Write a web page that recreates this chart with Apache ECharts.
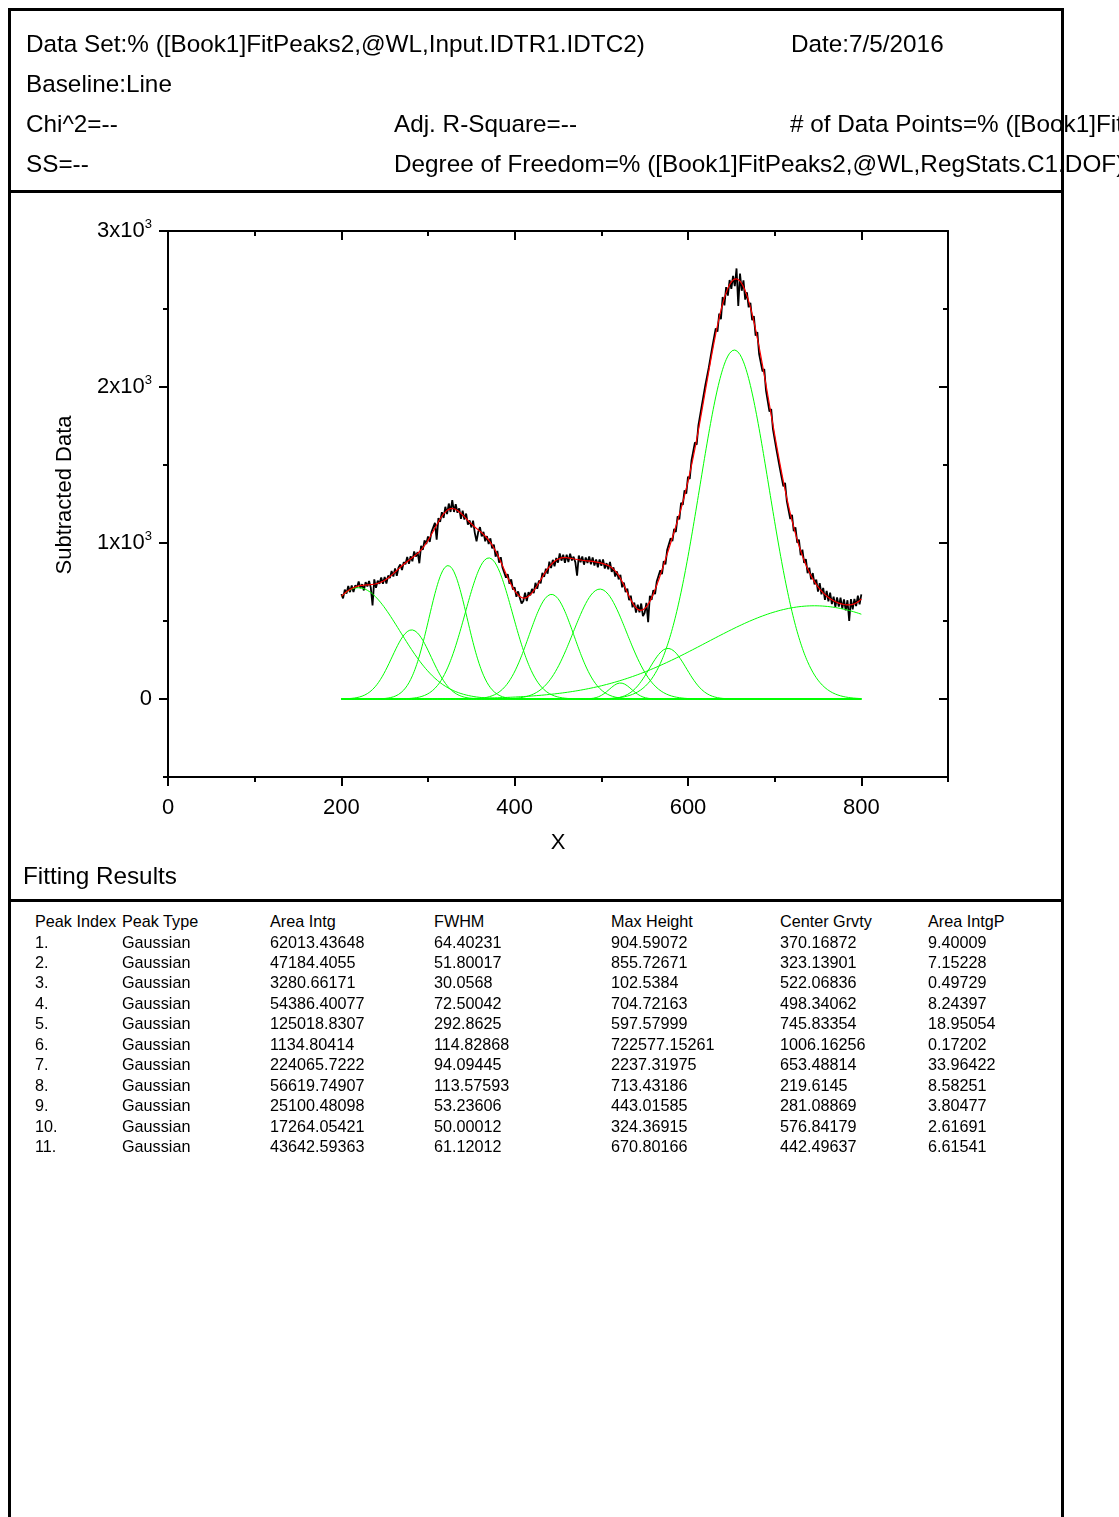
<!DOCTYPE html>
<html>
<head>
<meta charset="utf-8">
<title>Fit Peaks Report</title>
<script src="https://cdn.jsdelivr.net/npm/echarts@6/dist/echarts.min.js"></script>
<style>
  html, body { margin: 0; padding: 0; overflow: hidden; background: #fff; width: 1119px; height: 1517px; }
  body { position: relative; font-family: "Liberation Sans", Arial, Helvetica, sans-serif; color: #000; }
  .t { position: absolute; white-space: nowrap; line-height: 1; }
  .hd { font-size: 24.3px; }
  .tb { font-size: 16.2px; }
  #frame { position: absolute; left: 8px; top: 8px; width: 1056px; height: 1600px; border: 3px solid #000; box-sizing: border-box; }
  .rule { position: absolute; left: 8px; width: 1056px; height: 3px; background: #000; }
  #chart { position: absolute; left: 0; top: 0; width: 1119px; height: 895px; }
</style>
</head>
<body>
<div id="frame"></div>
<div class="rule" style="top:190px"></div>
<div class="rule" style="top:899px"></div>
<div id="chart"></div>
<div id="text"></div>
<script>
// ---- report header ----
const headerLines = [
  { x: 26,  y: 44,  text: "Data Set:% ([Book1]FitPeaks2,@WL,Input.IDTR1.IDTC2)" },
  { x: 791, y: 44,  text: "Date:7/5/2016" },
  { x: 26,  y: 84,  text: "Baseline:Line" },
  { x: 26,  y: 124, text: "Chi^2=--" },
  { x: 394, y: 124, text: "Adj. R-Square=--" },
  { x: 790, y: 124, text: "# of Data Points=% ([Book1]FitPeaks2,@WL,RegStats.C1.N)" },
  { x: 26,  y: 164, text: "SS=--" },
  { x: 394, y: 164, text: "Degree of Freedom=% ([Book1]FitPeaks2,@WL,RegStats.C1.DOF)" }
];

// ---- fitting results table ----
const tableColumns = ["Peak Index", "Peak Type", "Area Intg", "FWHM", "Max Height", "Center Grvty", "Area IntgP"];
const peakIndex   = ["1.", "2.", "3.", "4.", "5.", "6.", "7.", "8.", "9.", "10.", "11."];
const peakType    = ["Gaussian", "Gaussian", "Gaussian", "Gaussian", "Gaussian", "Gaussian", "Gaussian", "Gaussian", "Gaussian", "Gaussian", "Gaussian"];
const areaIntg    = [62013.43648, 47184.4055, 3280.66171, 54386.40077, 125018.8307, 1134.80414, 224065.7222, 56619.74907, 25100.48098, 17264.05421, 43642.59363];
const fwhm        = [64.40231, 51.80017, 30.0568, 72.50042, 292.8625, 114.82868, 94.09445, 113.57593, 53.23606, 50.00012, 61.12012];
const maxHeight   = [904.59072, 855.72671, 102.5384, 704.72163, 597.57999, 722577.15261, 2237.31975, 713.43186, 443.01585, 324.36915, 670.80166];
const centerGrvty = [370.16872, 323.13901, 522.06836, 498.34062, 745.83354, 1006.16256, 653.48814, 219.6145, 281.08869, 576.84179, 442.49637];
const areaIntgP   = [9.40009, 7.15228, 0.49729, 8.24397, 18.95054, 0.17202, 33.96422, 8.58251, 3.80477, 2.61691, 6.61541];

// peak 6 is centred far beyond the data range; only the cumulative fit carries its tail
const peaksWithoutCurve = [6];

// ---- axis ticks ----
const xMajorTicks = [0, 200, 400, 600, 800];
const yMajorTicks = [0, 1000, 2000, 3000];

// ---- baseline-subtracted data, x = 200 .. 800 in steps of 2 ----
const dataStartX = 200;
const dataStepX = 2;
const subtractedData = [
  672, 645, 701, 676, 725,   685, 727, 685, 728, 715,
  753, 711, 736, 696, 749,   722, 757, 713, 600, 767,
  713, 759, 739, 779, 739,   782, 740, 791, 775, 821,
  785, 837, 790, 843, 862,   827, 877, 864, 911, 867,
  915, 883, 946, 913, 941,   870, 981, 956, 1016, 994,
  1042, 1007, 1070, 1058, 1130,   1022, 1159, 1136, 1197, 1161,
  1232, 1185, 1253, 1199, 1275,   1199, 1249, 1194, 1222, 1155,
  1207, 1150, 1189, 1118, 1145,   1100, 1143, 1065, 1010, 1072,
  1102, 1042, 1071, 1011, 1044,   994, 1030, 966, 989, 912,
  949, 874, 909, 841, 848,   778, 800, 739, 767, 702,
  716, 655, 690, 648, 612,   628, 682, 628, 684, 665,
  706, 679, 745, 707, 759,   742, 808, 783, 835, 804,
  880, 840, 892, 851, 904,   874, 933, 887, 925, 873,
  925, 878, 932, 888, 912,   877, 790, 920, 876, 914,
  861, 907, 872, 914, 864,   908, 856, 895, 845, 895,
  854, 895, 836, 871, 832,   879, 815, 844, 785, 818,
  767, 796, 716, 746, 686,   707, 634, 662, 588, 618,
  554, 605, 556, 612, 532,   552, 616, 492, 662, 635,
  698, 673, 755, 748, 825,   801, 884, 863, 957, 950,
  1030, 1012, 1090, 1071, 1171,   1152, 1258, 1245, 1337, 1317,
  1425, 1411, 1527, 1529, 1645,   1630, 1754, 1747, 1884, 1890,
  2012, 2005, 2125, 2115, 2255,   2248, 2376, 2355, 2470, 2435,
  2577, 2523, 2640, 2586, 2686,   2629, 2712, 2646, 2760, 2520,
  2727, 2617, 2683, 2560, 2607,   2511, 2539, 2429, 2454, 2329,
  2352, 2213, 2224, 2100, 2115,   1977, 1984, 1843, 1859, 1730,
  1736, 1600, 1606, 1478, 1489,   1363, 1385, 1269, 1281, 1154,
  1181, 1076, 1100, 1002, 1021,   922, 957, 873, 897, 807,
  842, 767, 807, 735, 765,   688, 742, 671, 712, 636,
  693, 626, 682, 608, 656,   590, 651, 592, 650, 580,
  638, 568, 633, 500, 640,   574, 642, 596, 663, 607,
  671
];

const FONT = '"Liberation Sans", Arial, Helvetica, sans-serif';

// ---------- HTML text: header and table ----------
const textHost = document.getElementById('text');
function addText(cls, x, yCenter, size, str) {
  const d = document.createElement('div');
  d.className = 't ' + cls;
  d.style.left = x + 'px';
  d.style.top = (yCenter - 0.49 * size) + 'px';
  d.textContent = str;
  textHost.appendChild(d);
}
headerLines.forEach(h => addText('hd', h.x, h.y, 24.3, h.text));
addText('hd', 23, 876, 24.3, 'Fitting Results');

const colX = [35, 122, 270, 434, 611, 780, 928];
const rowY0 = 921, rowPitch = 20.45;
tableColumns.forEach((c, j) => addText('tb', colX[j], rowY0, 16.2, c));
peakIndex.forEach((p, i) => {
  const y = rowY0 + rowPitch * (i + 1);
  const cells = [p, peakType[i], String(areaIntg[i]), String(fwhm[i]), String(maxHeight[i]), String(centerGrvty[i]), String(areaIntgP[i])];
  cells.forEach((c, j) => addText('tb', colX[j], y, 16.2, c));
});

// ---------- fitted Gaussian model from the tabulated parameters ----------
function gaussian(x, c, w, h) {
  const s = w / (2 * Math.sqrt(2 * Math.LN2));
  const d = x - c;
  return h * Math.exp(-d * d / (2 * s * s));
}
const fitX = [];
for (let x = 200; x <= 800; x += 1) fitX.push(x);

const peakCurves = peakIndex.map((_, i) =>
  fitX.map(x => [x, gaussian(x, centerGrvty[i], fwhm[i], maxHeight[i])]));
const cumulativeFit = fitX.map((x, k) =>
  [x, peakCurves.reduce((acc, curve) => acc + curve[k][1], 0)]);

const dataPoints = subtractedData.map((v, i) => [dataStartX + dataStepX * i, v]);

// ---------- chart ----------
const chart = echarts.init(document.getElementById('chart'), null, { renderer: 'canvas' });
const black = '#000';
const lineW = 2;

function minorAxis(extra) {
  return Object.assign({
    type: 'value',
    axisLine: { show: true, onZero: false, lineStyle: { color: black, width: lineW } },
    axisTick: { show: true, length: 5, lineStyle: { color: black, width: lineW } },
    axisLabel: { show: false },
    splitLine: { show: false }
  }, extra);
}
function majorAxis(extra, label) {
  return Object.assign({
    type: 'value',
    axisLine: { show: false, onZero: false },
    axisTick: { show: true, length: 9, lineStyle: { color: black, width: lineW } },
    axisLabel: label || { show: false },
    splitLine: { show: false }
  }, extra);
}

const series = [{
  type: 'line', xAxisIndex: 0, yAxisIndex: 0, data: dataPoints,
  showSymbol: false, silent: true, z: 2,
  lineStyle: { color: '#000', width: 1.8 }
}];
peakCurves.forEach((curve, i) => {
  if (peaksWithoutCurve.includes(i + 1)) return;
  series.push({
    type: 'line', xAxisIndex: 0, yAxisIndex: 0, data: curve,
    showSymbol: false, silent: true, z: 3,
    lineStyle: { color: '#00ff00', width: 1 }
  });
});
series.push({
  type: 'line', xAxisIndex: 0, yAxisIndex: 0, data: cumulativeFit,
  showSymbol: false, silent: true, z: 4,
  lineStyle: { color: '#ff0000', width: 1.2 }
});

chart.setOption({
  animation: false,
  backgroundColor: 'transparent',
  grid: [
    { left: 168, top: 231, width: 780, height: 546 },
    { left: 168, top: 231, width: 693.33, height: 468 }
  ],
  xAxis: [
    minorAxis({ gridIndex: 0, position: 'bottom', min: 0, max: 900, interval: 100 }),
    minorAxis({ gridIndex: 0, position: 'top', min: 0, max: 900, interval: 100,
      axisTick: { show: true, inside: true, length: 5, lineStyle: { color: black, width: lineW } } }),
    majorAxis({ gridIndex: 1, position: 'bottom', offset: 78, min: 0, max: 800, interval: 200 },
      { show: true, margin: 20, fontSize: 22, color: black, fontFamily: FONT,
        formatter: v => xMajorTicks.includes(v) ? String(v) : '' }),
    majorAxis({ gridIndex: 1, position: 'top', min: 0, max: 800, interval: 200,
      axisTick: { show: true, inside: true, length: 9, lineStyle: { color: black, width: lineW } } })
  ],
  yAxis: [
    minorAxis({ gridIndex: 0, position: 'left', min: -500, max: 3000, interval: 500 }),
    minorAxis({ gridIndex: 0, position: 'right', min: -500, max: 3000, interval: 500,
      axisTick: { show: true, inside: true, length: 5, lineStyle: { color: black, width: lineW } } }),
    majorAxis({ gridIndex: 1, position: 'left', min: 0, max: 3000, interval: 1000 },
      { show: true, margin: 16, color: black, fontFamily: FONT,
        formatter: v => {
          if (!yMajorTicks.includes(v)) return '';
          return v === 0 ? '{b|0}' : '{b|' + (v / 1000) + 'x10}{sup|3}';
        },
        rich: {
          b: { fontSize: 22, lineHeight: 26, fontFamily: FONT, color: black },
          sup: { fontSize: 13, lineHeight: 13, verticalAlign: 'top', fontFamily: FONT, color: black }
        } }),
    majorAxis({ gridIndex: 1, position: 'right', offset: 86.67, min: 0, max: 3000, interval: 1000,
      axisTick: { show: true, inside: true, length: 9, lineStyle: { color: black, width: lineW } } })
  ],
  graphic: [
    { type: 'text', x: 558, y: 843, silent: true,
      style: { text: 'X', fontSize: 22, fontFamily: FONT, fill: black, align: 'center', verticalAlign: 'middle' } },
    { type: 'text', x: 65, y: 495, rotation: Math.PI / 2, silent: true,
      style: { text: 'Subtracted Data', fontSize: 22, fontFamily: FONT, fill: black, align: 'center', verticalAlign: 'middle' } }
  ],
  series: series
});
</script>
</body>
</html>
